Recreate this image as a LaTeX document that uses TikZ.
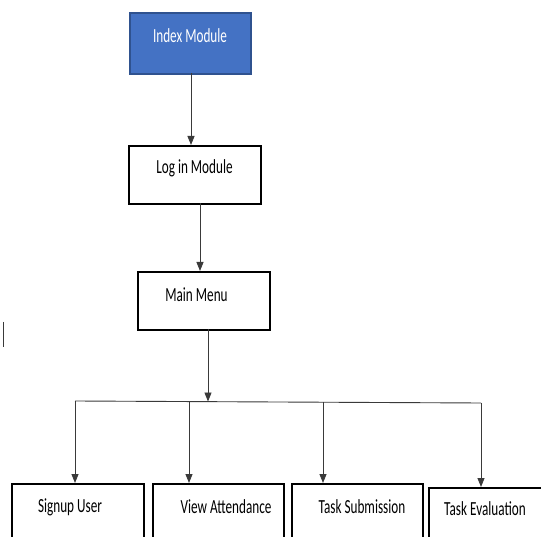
\documentclass[tikz,border=0pt]{standalone}
\usepackage{fontspec}
\setmainfont{Carlito}
\usetikzlibrary{arrows.meta}
\newcommand{\sqz}[1]{\scalebox{0.66}[1]{\fontsize{20}{22}\selectfont #1}}
\definecolor{idxblue}{HTML}{4472C4}
\definecolor{idxedge}{HTML}{2F528F}
\definecolor{arrgray}{HTML}{3A3A3A}
\tikzset{
  box/.style={draw=black, line width=1.6pt, fill=white, inner sep=0pt, anchor=north west},
  lbl/.style={inner sep=0pt, anchor=center, text=black},
  arr/.style={draw=arrgray, line width=0.9pt, -{Triangle[length=9pt,width=7pt]}},
  bus/.style={draw=arrgray, line width=0.9pt}
}
\begin{document}
\begin{tikzpicture}[x=1pt,y=-1pt]
\useasboundingbox (0,0) rectangle (541,537);
\clip (0,0) rectangle (541,537);
\fill[white] (0,0) rectangle (541,537);
% boxes
\node[box, draw=idxedge, fill=idxblue, minimum width=121pt, minimum height=61pt] (index) at (129,12) {};
\node[box, minimum width=132pt, minimum height=58pt] (login) at (128,145) {};
\node[box, minimum width=132pt, minimum height=58pt] (main) at (137,271) {};
\node[box, minimum width=132pt, minimum height=80pt] (signup) at (11,483) {};
\node[box, minimum width=131pt, minimum height=80pt] (view) at (152,483) {};
\node[box, minimum width=131pt, minimum height=80pt] (submit) at (291,483) {};
\node[box, minimum width=125pt, minimum height=80pt] (eval) at (428,487) {};
% texts
\node[lbl, text=white] (indexT) at (190,36) {\sqz{Index Module}};
\node[lbl] (loginT) at (194.5,168) {\sqz{Log in Module}};
\node[lbl] (mainT) at (196.5,295) {\sqz{Main Menu}};
\node[lbl] (signupT) at (70,507) {\sqz{Signup User}};
\node[lbl] (viewT) at (226,507) {\sqz{View Attendance}};
\node[lbl] (submitT) at (362,507) {\sqz{Task Submission}};
\node[lbl] (evalT) at (485,509) {\sqz{Task Evaluation}};
% connectors
\coordinate (c1) at (191,73);
\draw[arr] (c1) -- (c1 |- login.north);
\coordinate (c2) at (200,203);
\draw[arr] (c2) -- (c2 |- main.north);
\coordinate (c3) at (208,329);
\coordinate (b1) at (75,401);
\coordinate (b2) at (189,401.6);
\coordinate (b3) at (323,402.3);
\coordinate (b4) at (481,403);
\draw[arr] (c3) -- (208,401.5);
\draw[bus] (b1) -- (b4);
\draw[arr] (b1) -- (b1 |- signup.north);
\draw[arr] (b2) -- (b2 |- view.north);
\draw[arr] (b3) -- (b3 |- submit.north);
\draw[arr] (b4) -- (b4 |- eval.north);
% stray mark
\coordinate (s1) at (3,322);
\coordinate (s2) at (3,347);
\draw[arrgray, line width=0.9pt] (s1) -- (s2);
\end{tikzpicture}
\end{document}
